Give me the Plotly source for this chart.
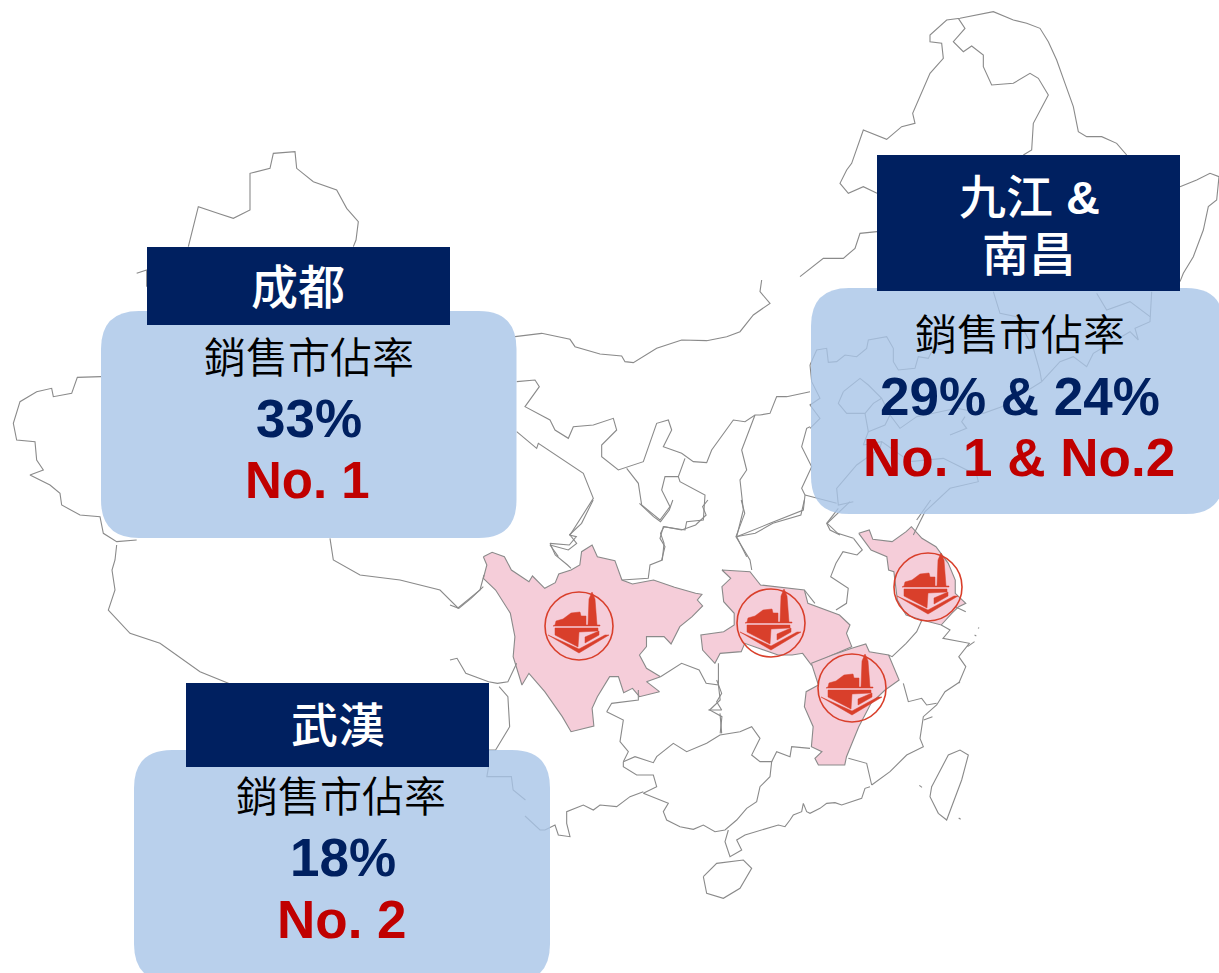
import plotly.graph_objects as go

# Outlines in crop coordinates: (x0, y0, sx, sy)
F1 = (450, 500, 2.85, 3)
F2 = (800, 0, 3, 3)
F3 = (0, 140, 3, 3)
F4 = (500, 280, 3, 3)
F6 = (540, 680, 3, 3)
F7 = (810, 285, 3, 3)

sichuan = [(95,170),(120,157),(155,170),(175,210),(225,245),(235,228),(270,265),(300,248),(310,222),(345,210),(370,195),(375,155),(405,135),(420,170),(470,182),(490,240),(520,252),(580,240),(640,262),(700,280),(718,283),(705,300),(720,318),(690,350),(655,380),(630,432),(610,410),(560,410),(560,440),(540,465),(560,505),(600,530),(560,545),(597,575),(540,590),(520,565),(495,578),(480,530),(455,530),(420,590),(405,625),(410,678),(345,695),(320,650),(270,575),(225,520),(205,555),(180,470),(185,410),(172,340),(130,270),(95,235),(105,195),(95,170)]
hubei = [(775,210),(855,215),(885,255),(1010,270),(1020,310),(1110,345),(1140,375),(1130,400),(1145,440),(1090,465),(1030,495),(1005,460),(975,465),(935,465),(840,430),(830,455),(770,460),(755,490),(720,450),(715,405),(780,395),(810,375),(810,340),(780,305),(775,260),(800,235),(775,210)]
jiangxi = [(1030,490),(1090,465),(1145,445),(1185,432),(1195,455),(1250,465),(1280,540),(1240,570),(1200,610),(1165,680),(1130,770),(1125,795),(1050,795),(1040,775),(1060,755),(1030,740),(1035,680),(1010,620),(1015,575),(1050,555),(1030,490)]
jiangsu = [(1165,100),(1195,90),(1205,118),(1260,125),(1300,95),(1315,80),(1345,115),(1385,140),(1420,190),(1440,240),(1440,280),(1470,310),(1450,320),(1430,340),(1400,375),(1345,360),(1300,345),(1275,300),(1265,215),(1250,210),(1245,170),(1200,150),(1165,100)]

borders = [
 # crop 1
 (F1,[(0,315),(25,325),(60,295),(95,260)]),
 (F1,[(0,480),(20,475),(45,520),(110,545),(135,550),(165,545),(190,490)]),
 (F1,[(140,560),(165,590),(170,680),(130,750),(110,750)]),
 (F1,[(110,800),(105,830),(175,830),(180,870),(215,900)]),
 (F1,[(600,530),(660,490),(710,510),(730,550),(765,555),(770,600),(740,630),(775,650),(770,700)]),
 (F1,[(765,490),(765,555)]),
 (F1,[(285,130),(340,135),(360,110),(340,105),(375,70),(395,30),(408,0)]),
 (F1,[(285,130),(300,165),(335,195),(345,205)]),
 (F1,[(490,240),(565,235),(570,195),(605,180),(610,130),(600,100),(610,80),(660,90),(700,75),(730,45),(720,20),(735,0)]),
 (F1,[(540,10),(580,50),(600,65),(625,30),(635,0)]),
 (F1,[(830,0),(840,40),(815,110),(855,180),(860,210)]),
 (F1,[(815,110),(870,100),(920,70),(1000,45),(1010,0)]),
 (F1,[(1010,270),(1040,310)]),
 (F1,[(1100,330),(1130,310),(1135,265),(1085,230),(1100,190),(1120,155),(1160,165),(1175,150),(1150,115)]),
 (F1,[(1150,115),(1105,100),(1075,70),(1110,35),(1140,5)]),
 (F1,[(1330,60),(1370,0)]),
 (F1,[(1345,360),(1330,395),(1300,430),(1260,470),(1250,465)]),
 (F1,[(1400,375),(1425,390),(1405,415),(1480,430),(1450,470),(1470,500),(1450,550)]),
 (F1,[(1475,440),(1495,425)]),
 (F1,[(1495,405),(1500,408)]),
 (F1,[(1505,383),(1508,385)]),
 (F1,[(1440,320),(1470,335)]),
 (F1,[(1350,660),(1375,650)]),
 # crop 6
 (F6,[(250,245),(285,230),(340,248),(350,230),(400,190),(440,215),(500,190),(540,165),(600,155),(635,140),(660,175),(635,225),(660,245),(695,245),(690,290),(660,320),(650,365),(620,385),(590,420),(555,450),(525,455),(490,435),(460,448),(420,440),(380,420),(370,395),(385,370),(310,340),(350,320),(340,285),(290,285),(250,260),(250,245)]),
 (F6,[(310,335),(270,350),(230,380),(180,375),(160,390),(130,375),(80,395),(80,430),(90,470),(55,465),(45,435),(15,450),(0,450),(-45,408)]),
 (F6,[(695,245),(710,215),(750,230),(755,200),(810,205)]),
 (F6,[(925,235),(980,250),(995,315)]),
 (F6,[(990,320),(975,325),(965,355),(935,365),(905,375),(885,368),(860,370),(840,385),(810,400),(800,395),(790,370),(785,395),(760,405),(750,420),(735,440),(715,435),(680,445),(650,455),(615,465),(590,480),(605,510),(570,530),(555,485),(565,450)]),
 (F6,[(490,590),(530,550),(610,540),(635,565),(600,625),(550,655),(500,640),(490,590)]),
 (F6,[(1175,320),(1225,225),(1260,210),(1285,225),(1265,300),(1220,420),(1195,400),(1170,350),(1175,320)]),
 (F6,[(995,315),(1050,275),(1100,225),(1150,200),(1140,175),(1150,110),(1190,75),(1215,35),(1260,5)]),
 (F6,[(1090,10),(1105,65),(1145,55),(1160,75),(1190,70)]),
 (F6,[(200,95),(250,120),(240,185),(265,215),(250,245)]),
 (F6,[(200,95),(215,70),(295,60),(295,30)]),
 (F6,[(505,90),(545,90),(530,65),(545,40),(530,0)]),
 (F6,[(545,160),(540,100)]),
 (F6,[(1138,316),(1146,322)]),
 (F6,[(1256,414),(1262,418)]),
 # crop 4
 (F4,[(45,170),(125,160),(210,178),(225,200),(300,222),(365,228),(375,245),(400,248),(470,205),(545,180),(620,182),(680,170),(720,155),(760,105),(810,70),(780,35),(785,0)]),
 (F4,[(50,305),(105,300),(118,320),(75,380),(150,420),(165,450),(205,475),(220,440),(280,435),(340,415),(350,450),(305,495),(305,530),(355,570),(430,545),(450,490),(470,430),(505,420),(515,450),(490,500),(545,520),(580,545),(620,548),(635,510),(700,420),(735,425),(765,405),(780,405),(810,400),(830,350),(860,350),(930,335)]),
 (F4,[(50,455),(110,505),(115,490),(215,555),(250,580),(280,655),(240,720),(210,765),(230,790),(205,810),(150,795),(175,830)]),
 (F4,[(380,565),(415,610),(425,675),(480,720),(510,680),(485,630),(495,590),(535,590),(555,535)]),
 (F4,[(535,590),(540,605),(615,645),(610,720),(560,725),(555,750),(490,740),(480,775),(495,800),(485,840)]),
 (F4,[(765,405),(725,510),(740,570),(720,600),(730,690),(710,770),(810,730),(910,690),(915,645),(905,625),(935,560),(905,500),(920,445),(930,440)]),
 (F4,[(915,645),(1010,670)]),
 (F4,[(710,770),(740,830)]),
 # crop 7, inside the right panel
 (F7,[(550,20),(570,85),(620,95),(670,190),(690,260),(695,290),(750,230),(790,215),(830,245),(850,205),(960,140),(985,165),(975,130),(1020,110),(1025,20)]),
 (F7,[(860,25),(890,75),(960,50),(1020,95)]),
 (F7,[(0,240),(20,195),(50,190),(55,232),(80,230),(105,210),(140,215),(170,190),(175,165),(230,155),(250,190),(250,230),(265,255),(315,250),(325,215),(355,220),(370,190),(420,200)]),
 (F7,[(100,320),(150,280),(175,300),(215,340),(240,390),(270,430),(320,395),(440,370),(520,385),(575,365),(695,290)]),
 (F7,[(100,320),(85,355),(110,385),(165,385),(190,355),(215,340)]),
 (F7,[(165,385),(175,440),(225,420),(240,390)]),
 (F7,[(420,450),(470,430),(455,410),(465,395)]),
 (F7,[(0,240),(5,290),(30,340),(0,360),(30,400),(0,430)]),
 (F7,[(215,470),(210,490),(140,540),(80,610),(85,660),(130,650)]),
 (F7,[(175,440),(160,480),(215,470),(300,530),(400,520),(420,530),(500,570),(505,590),(420,610),(345,680),(310,750)]),
 (F7,[(85,670),(50,715),(60,735),(90,750)]),
 # crop 2
 (F2,[(0,830),(70,775),(130,775),(165,745),(180,700),(231,695)]),
 (F2,[(231,580),(190,560),(145,580),(120,550),(140,510),(155,490),(190,390),(260,418),(305,380),(345,370),(338,340),(390,220),(430,175),(425,130),(390,125),(390,105),(440,60),(480,55),(580,35),(640,60),(680,70),(720,85),(745,125),(770,180),(795,250),(820,320),(835,395),(860,410),(905,410),(950,430),(980,465)]),
 (F2,[(475,55),(495,85),(460,125),(490,155),(515,138),(550,165),(550,200),(575,255),(640,250),(690,220),(715,235),(745,285),(700,370),(695,450),(670,465)]),
 (F2,[(1140,560),(1190,540),(1230,520),(1257,530),(1250,600),(1225,620),(1210,690),(1180,770),(1150,820),(1140,845)]),
 # crop 3
 (F3,[(565,320),(595,200),(660,222),(700,235),(750,210),(750,100),(810,85),(820,40),(885,35),(890,85),(940,125),(1010,150),(1040,205),(1075,245),(1068,300),(1060,320)]),
 (F3,[(410,400),(440,390),(440,440)]),
 (F3,[(303,710),(232,712),(215,760),(160,770),(155,745),(110,755),(60,785),(40,850),(50,900),(105,905),(110,960),(130,990),(90,1005),(150,1035),(180,1060),(185,1095),(240,1125),(300,1130),(310,1180),(350,1205),(410,1200)]),
 (F3,[(350,1215),(345,1260),(336,1290),(345,1350),(325,1410),(390,1480),(480,1510),(600,1595),(735,1650)]),
 (F3,[(990,1195),(1000,1260),(1080,1305),(1200,1320),(1320,1350),(1374,1404),(1440,1350),(1452,1305)]),
]

icon_centers_x = [579, 771, 852, 928]
icon_centers_y = [626, 623, 688, 587]
ICON_R = 34

# icon parts relative to the circle centre
ic_top = [(-24,-1),(-23,-5),(-16,-7),(-8,-13),(1,-14),(2,-10),(7,-10),(7,-1),(9,-1),(10,-27),(13,-34),(16,-27),(18,-1),(21,-1),(21,0),(-26,0)]
ic_low = [(-24,2),(19,2),(19,5),(0,6),(-1,21),(-24,9)]
ic_step = [(6,11),(20,5),(20,9),(6,17)]
ic_chev = [(-31,9),(0,27),(30,9),(26,9),(0,23),(-26,11)]

titles = [("成都", 298, 287), ("九江 <b>&</b>", 1029, 197), ("南昌", 1029, 254), ("武漢", 338, 725)]
labels = ["銷售市佔率", "銷售市佔率", "銷售市佔率"]
label_xy = [(309, 354), (1020, 331), (341, 793)]
shares = ["33%", "29% & 24%", "18%"]
share_xy = [(309, 418), (1020, 396), (343, 857)]
ranks = ["No. 1", "No. 1 & No.2", "No. 2"]
rank_xy = [(307, 480), (1019, 457), (342, 919)]
rank_sizes = [51, 53, 53]

# panel frames: x0, x1, y0, y1, fill
panels = [(101, 516.5, 311, 538, "#B9D0EC"),
          (811, 1224, 288, 514, "rgba(168,196,231,0.8)"),
          (134, 550, 750, 982, "rgba(168,196,231,0.8)")]
heads = [(147, 450, 247, 325), (877, 1180, 155, 291), (186, 489, 683, 767)]

NAVY, RED, GREY, PINK = "#002060", "#C00000", "#8A8A8A", "#F5CDD9"
ICON = "#D93F2B"
CJK = "Noto Sans CJK TC DemiLight, Noto Sans CJK TC Light, Noto Sans CJK TC, Liberation Sans"
HEAD = "Liberation Sans, Noto Sans CJK TC Medium, Noto Sans CJK TC"
LAT = "Liberation Sans, Noto Sans CJK TC"


def conv(frame, pts):
    x0, y0, sx, sy = frame
    return [x0 + p[0] / sx for p in pts], [y0 + p[1] / sy for p in pts]


fig = go.Figure()
for poly in (sichuan, hubei, jiangxi, jiangsu):
    xs, ys = conv(F1, poly)
    fig.add_trace(go.Scatter(x=xs, y=ys, mode="lines", fill="toself", fillcolor=PINK,
                             line=dict(color=GREY, width=1.1)))
lx, ly = [], []
for frame, pts in borders:
    xs, ys = conv(frame, pts)
    lx += xs + [None]
    ly += ys + [None]
fig.add_trace(go.Scatter(x=lx, y=ly, mode="lines", line=dict(color=GREY, width=1.1)))

for part in (ic_top, ic_low, ic_step, ic_chev):
    for cx, cy in zip(icon_centers_x, icon_centers_y):
        fig.add_trace(go.Scatter(x=[cx + p[0] for p in part] + [cx + part[0][0]],
                                 y=[cy + p[1] for p in part] + [cy + part[0][1]],
                                 mode="lines", fill="toself", fillcolor=ICON,
                                 line=dict(color=ICON, width=0.5)))
for cx, cy in zip(icon_centers_x, icon_centers_y):
    fig.add_shape(type="circle", x0=cx - ICON_R, x1=cx + ICON_R, y0=cy - ICON_R, y1=cy + ICON_R,
                  line=dict(color=ICON, width=1.6), layer="above")

R = 38
for x0, x1, y0, y1, col in panels:
    path = (f"M {x0+R} {y0} L {x1-R} {y0} Q {x1} {y0} {x1} {y0+R} L {x1} {y1-R} Q {x1} {y1} {x1-R} {y1} "
            f"L {x0+R} {y1} Q {x0} {y1} {x0} {y1-R} L {x0} {y0+R} Q {x0} {y0} {x0+R} {y0} Z")
    fig.add_shape(type="path", path=path, fillcolor=col, line=dict(width=0), layer="above")
for x0, x1, y0, y1 in heads:
    fig.add_shape(type="rect", x0=x0, x1=x1, y0=y0, y1=y1, fillcolor=NAVY, line=dict(width=0), layer="above")


def note(t, x, y, size, color, fam, bold=False):
    fig.add_annotation(x=x, y=y, text=f"<b>{t}</b>" if bold else t, showarrow=False, xanchor="center", yanchor="middle",
                       font=dict(size=size, color=color, family=fam))


for t, x, y in titles:
    note(t, x, y, 47, "white", HEAD)
for t, (x, y) in zip(labels, label_xy):
    note(t, x, y, 42, "black", CJK)
for t, (x, y) in zip(shares, share_xy):
    note(t, x, y, 53, NAVY, LAT, True)
for t, (x, y), s in zip(ranks, rank_xy, rank_sizes):
    note(t, x, y, s, RED, LAT, True)

fig.update_layout(width=1219, height=973, margin=dict(l=0, r=0, t=0, b=0), showlegend=False,
                  plot_bgcolor="white", paper_bgcolor="white",
                  xaxis=dict(range=[0, 1219], visible=False, fixedrange=True),
                  yaxis=dict(range=[973, 0], visible=False, fixedrange=True))
fig.write_html("out.html", post_script="document.body.style.margin='0';document.body.style.overflow='hidden';",
               config=dict(displayModeBar=False))
